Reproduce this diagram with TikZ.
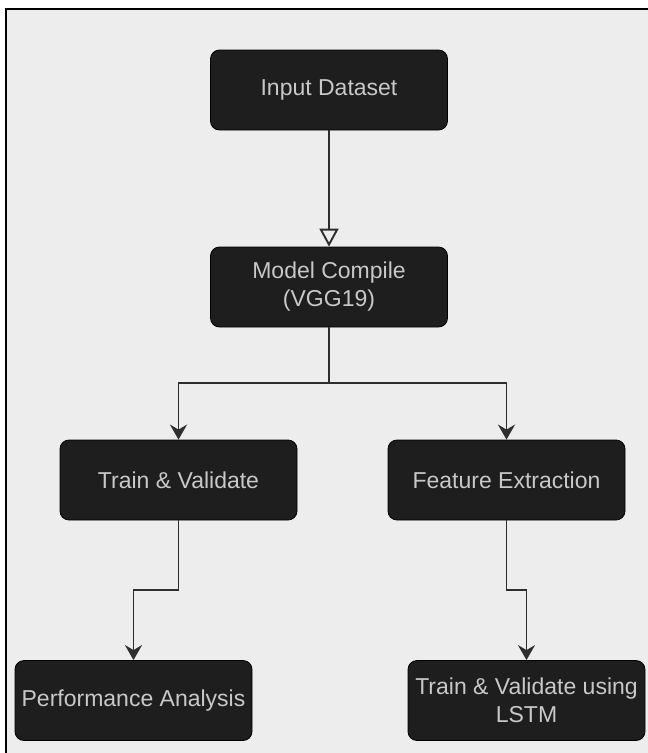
\documentclass[tikz,border=0pt]{standalone}
\usepackage{fontspec}
\setmainfont{Liberation Sans}
\usetikzlibrary{arrows.meta}
\definecolor{bg}{HTML}{EDEDED}
\definecolor{boxfill}{HTML}{1E1E1E}
\definecolor{boxtext}{HTML}{C8C8C8}
\definecolor{linec}{HTML}{2E2E2E}
\begin{document}
\begin{tikzpicture}[x=1pt,y=-1pt,
  box/.style={draw=black, line width=0.8pt, fill=boxfill, rounded corners=9pt,
    minimum width=237pt, minimum height=80pt, text=boxtext,
    font=\fontsize{23}{28}\selectfont, align=center, inner sep=0pt},
  conn/.style={draw=linec, line width=1.9pt},
  solidtip/.style={-{Stealth[length=15pt,width=17pt,inset=5pt]}},
  opentip/.style={-{Triangle[open,length=18pt,width=19pt]}}]
\useasboundingbox (0,0) rectangle (648,753);
\fill[white] (0,0) rectangle (648,753);
\fill[bg] (6,9) rectangle (648,753);
\draw[black, line width=2pt] (6,753) -- (6,9) -- (648,9);

\node[box] (in)   at (329,90)    {Input Dataset};
\node[box] (mc)   at (329,287)   {Model Compile\\(VGG19)};
\node[box] (tv)   at (178.5,480) {Train \& Validate};
\node[box] (fe)   at (506.5,480) {Feature Extraction};
\node[box] (pa)   at (133.5,700.5) {Performance Analysis};
\node[box] (lstm) at (526.5,700.5) {Train \& Validate using\\LSTM};

\coordinate (split) at (329,383);

\draw[conn, opentip] (in) -- (mc);
\draw[conn] (mc.south) -- (split);
\draw[conn, solidtip] (split) -| (tv.north);
\draw[conn, solidtip] (split) -| (fe.north);
\draw[conn, solidtip] (tv.south) -- ++(0,70) -| (pa.north);
\draw[conn, solidtip] (fe.south) -- ++(0,70) -| (lstm.north);
\end{tikzpicture}
\end{document}
